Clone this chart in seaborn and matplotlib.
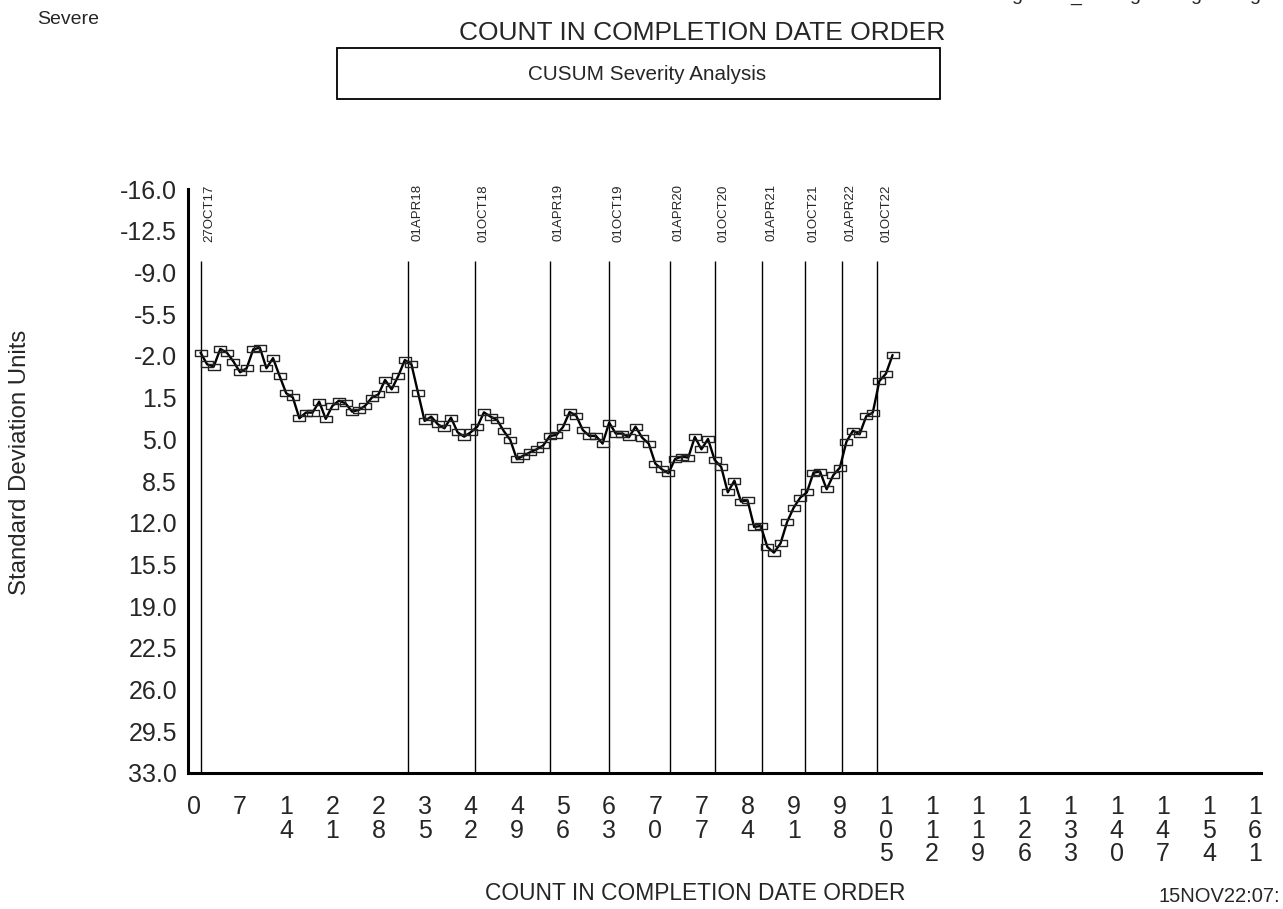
import matplotlib
matplotlib.use("Agg")
import matplotlib.pyplot as plt
import matplotlib.transforms as mtransforms
from matplotlib.path import Path
import numpy as np
import pandas as pd
import seaborn as sns

# CUSUM values (standard deviation units), one per count in completion date order
cusum = [
    -2.27, -1.29, -1.10, -2.58, -2.27, -1.52, -0.62, -0.96, -2.55, -2.69,
    -0.96, -1.81, -0.31, 1.14, 1.48, 3.24, 2.76, 2.76, 1.84, 3.29,
    2.20, 1.76, 1.98, 2.68, 2.54, 2.18, 1.50, 1.23, 0.02, 0.81,
    -0.31, -1.65, -1.29, 1.09, 3.46, 3.10, 3.74, 4.08, 3.18, 4.41,
    4.78, 4.41, 3.94, 2.74, 3.10, 3.38, 4.30, 5.06, 6.68, 6.37,
    6.09, 5.84, 5.52, 4.72, 4.64, 3.97, 2.71, 3.02, 4.22, 4.72,
    4.72, 5.36, 3.60, 4.52, 4.52, 4.83, 3.94, 4.86, 5.36, 7.04,
    7.52, 7.85, 6.65, 6.45, 6.54, 4.80, 5.84, 4.97, 6.73, 7.32,
    9.45, 8.47, 10.23, 10.12, 12.36, 12.27, 14.03, 14.51, 13.73, 11.94,
    10.73, 9.89, 9.45, 7.80, 7.71, 9.19, 8.02, 7.38, 5.20, 4.27,
    4.58, 3.07, 2.76, 0.11, -0.51, -2.07,
]

# date reference lines (position on count axis) and their labels
event_pos = [1.0, 32.5, 42.6, 54.0, 63.0, 72.2, 79.0, 86.2, 92.7, 98.3, 103.7]
event_labels = ["27OCT17", "01APR18", "01OCT18", "01APR19", "01OCT19", "01APR20",
                "01OCT20", "01APR21", "01OCT21", "01APR22", "01OCT22"]

x_ticks = list(range(0, 162, 7))
y_ticks = [-16.0, -12.5, -9.0, -5.5, -2.0, 1.5, 5.0, 8.5, 12.0, 15.5, 19.0, 22.5, 26.0, 29.5, 33.0]

# page header, cut off at the top edge in the original
header_chars = ["g", "_", "g", "g", "g"]
header_x = [1017, 1076, 1135, 1196, 1255]

sns.set_style("white")
plt.rcParams["font.family"] = ["Liberation Sans", "DejaVu Sans"]

W, H = 1283, 909
fig = plt.figure(figsize=(W / 100, H / 100), dpi=100)
ax = fig.add_axes([188 / W, 1 - 773 / H, (1261 - 188) / W, (773 - 189) / H])

df = pd.DataFrame({"count": np.arange(1, len(cusum) + 1), "cusum": cusum})

box_marker = Path([(-1, -0.55), (1, -0.55), (1, 0.55), (-1, 0.55), (-1, -0.55)],
                  [Path.MOVETO, Path.LINETO, Path.LINETO, Path.LINETO, Path.CLOSEPOLY])

ax.vlines(event_pos, -10, 33, color="black", lw=1.0, zorder=1)
sns.lineplot(data=df, x="count", y="cusum", ax=ax, color="black", lw=1.7,
             marker=box_marker, markersize=8.5, markerfacecolor="none",
             markeredgecolor="#222222", markeredgewidth=1.0, zorder=3)

offset = mtransforms.offset_copy(ax.transData, fig=fig, x=3, y=0, units="dots")
for xp, lab in zip(event_pos, event_labels):
    ax.text(xp, -14.0, lab, rotation=90, fontsize=9.5, ha="left", va="center",
            transform=offset)

ax.set_xlim(-0.9, 161.9)
ax.set_ylim(33, -16)
ax.set_xticks(x_ticks)
ax.set_xticklabels(["\n".join(str(v)) for v in x_ticks], fontsize=18, linespacing=0.98, va="top")
ax.set_xticks(np.arange(3.5, 161, 7), minor=True)
ax.set_yticks(y_ticks)
ax.set_yticklabels([f"{v:.1f}" for v in y_ticks], fontsize=18)
ax.set_yticks(np.arange(-16, 33.01, 0.5), minor=True)

for side in ["top", "right"]:
    ax.spines[side].set_visible(False)
for side in ["left", "bottom"]:
    ax.spines[side].set_linewidth(2.2)
    ax.spines[side].set_color("black")

ax.tick_params(axis="both", which="major", direction="out", length=6, width=1.2, color="black")
ax.tick_params(axis="both", which="minor", direction="out", length=3, width=1.0, color="black")
ax.tick_params(axis="x", which="major", pad=10)
ax.tick_params(axis="y", which="major", pad=2)
ax.set_xlabel("")
ax.set_ylabel("")
ax.grid(False)

fig.text(37 / W, 1 - 20 / H, "Severe", fontsize=14, ha="left", va="center")
fig.text(702 / W, 1 - 33 / H, "COUNT IN COMPLETION DATE ORDER", fontsize=19, ha="center", va="center")
fig.patches.append(plt.Rectangle((337 / W, 1 - 99 / H), (940 - 337) / W, 51 / H,
                                 transform=fig.transFigure, fill=False, lw=1.3, ec="black"))
fig.text(647 / W, 1 - 74 / H, "CUSUM Severity Analysis", fontsize=14.9, ha="center", va="center")
fig.text(20 / W, 1 - 462 / H, "Standard Deviation Units", fontsize=17.3, rotation=90,
         ha="center", va="center")
fig.text(695 / W, 1 - 893 / H, "COUNT IN COMPLETION DATE ORDER", fontsize=16.4, ha="center", va="center")
fig.text(1158 / W, 1 - 897 / H, "15NOV22:07:", fontsize=14.5, ha="left", va="center")
for ch, xp in zip(header_chars, header_x):
    fig.text(xp / W, 1 - 0.5 / H, ch, fontsize=14, ha="center", va="baseline")

fig.savefig("out.png", dpi=100)
